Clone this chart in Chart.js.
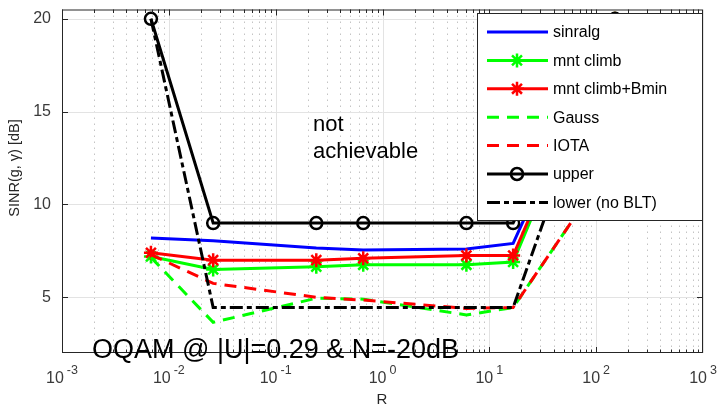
<!DOCTYPE html>
<html>
<head>
<meta charset="utf-8">
<script src="https://cdn.jsdelivr.net/npm/chart.js@4/dist/chart.umd.min.js"></script>
<style>
	body { margin: 0; background: #fff; }
	canvas { display: block; }
</style>
</head>
<body>
<canvas id="myChart" width="720" height="407"></canvas>
<script>
// values
const rValues = [0.0068, 0.026, 0.24, 0.66, 6.1, 16.7, 150];
const sinralg = [8.2, 8.05, 7.65, 7.55, 7.6, 7.9, 20];
const mntClimb = [7.2, 6.5, 6.65, 6.75, 6.75, 6.9, 20];
const mntClimbBmin = [7.4, 7.0, 7.0, 7.1, 7.25, 7.25, 20];
const gauss = [7.15, 3.65, 4.95, 4.9, 4.05, 4.45, 12.5];
const iota = [7.3, 5.75, 5.0, 4.85, 4.4, 4.45, 12.5];
const upper = [20, 9, 9, 9, 9, 9, 20];
const lower = [20, 4.45, 4.45, 4.45, 4.45, 4.45, 20];

const seriesNames = ["sinralg", "mnt climb", "mnt climb+Bmin", "Gauss", "IOTA", "upper", "lower (no BLT)"];
const xTickValues = [0.001, 0.01, 0.1, 1, 10, 100, 1000];
const xTickExponents = ["-3", "-2", "-1", "0", "1", "2", "3"];
const yTickValues = [5, 10, 15, 20];

const FONT = "'Liberation Sans', Arial, Helvetica, sans-serif";

function toPoints(values) {
	return values.map((v, i) => ({ x: rValues[i], y: v }));
}

function makeSet(i, values, color, extra) {
	return Object.assign({
		label: seriesNames[i],
		data: toPoints(values),
		borderColor: color,
		backgroundColor: color,
		borderWidth: 3,
		pointRadius: 0,
		tension: 0,
		fill: false,
		order: 10 - i
	}, extra);
}

const datasets = [
	makeSet(0, sinralg, "#0000ff", {}),
	makeSet(1, mntClimb, "#00ff00", { pointStyle: "star", pointRadius: 7, pointBorderWidth: 2.5, pointBorderColor: "#00ff00" }),
	makeSet(2, mntClimbBmin, "#ff0000", { pointStyle: "star", pointRadius: 7, pointBorderWidth: 2.5, pointBorderColor: "#ff0000" }),
	makeSet(3, gauss, "#00ff00", { borderDash: [12, 8] }),
	makeSet(4, iota, "#ff0000", { borderDash: [12, 8] }),
	makeSet(5, upper, "#000000", { pointStyle: "circle", pointRadius: 6, pointBorderWidth: 2.5, pointBorderColor: "#000000", pointBackgroundColor: "rgba(0,0,0,0)" }),
	makeSet(6, lower, "#000000", { borderDash: [13, 4, 5, 4] })
];

function drawMarker(ctx, ds, x, y) {
	if (!ds.pointRadius) return;
	const r = ds.pointRadius;
	ctx.save();
	ctx.setLineDash([]);
	ctx.lineWidth = ds.pointBorderWidth;
	ctx.strokeStyle = ds.pointBorderColor;
	ctx.beginPath();
	if (ds.pointStyle === "circle") {
		ctx.fillStyle = "#fff";
		ctx.arc(x, y, r, 0, Math.PI * 2);
		ctx.stroke();
	} else {
		const d = r * Math.SQRT1_2;
		ctx.moveTo(x - r, y); ctx.lineTo(x + r, y);
		ctx.moveTo(x, y - r); ctx.lineTo(x, y + r);
		ctx.moveTo(x - d, y - d); ctx.lineTo(x + d, y + d);
		ctx.moveTo(x - d, y + d); ctx.lineTo(x + d, y - d);
		ctx.stroke();
	}
	ctx.restore();
}

const matlabAxes = {
	id: "matlabAxes",
	beforeDatasetsDraw(chart) {
		const ctx = chart.ctx;
		const a = chart.chartArea;
		const xs = chart.scales.x, ys = chart.scales.y;
		ctx.save();
		// minor grid (x only)
		ctx.strokeStyle = "#c4c4c4";
		ctx.lineWidth = 1;
		ctx.setLineDash([1.5, 4.5]);
		for (let e = -3; e < 3; e++) {
			for (let m = 2; m <= 9; m++) {
				const px = Math.round(xs.getPixelForValue(m * Math.pow(10, e))) + 0.5;
				ctx.beginPath();
				ctx.moveTo(px, a.top);
				ctx.lineTo(px, a.bottom);
				ctx.stroke();
			}
		}
		// major grid
		ctx.setLineDash([]);
		ctx.strokeStyle = "#e3e3e3";
		xTickValues.forEach(v => {
			const px = Math.round(xs.getPixelForValue(v)) + 0.5;
			ctx.beginPath(); ctx.moveTo(px, a.top); ctx.lineTo(px, a.bottom); ctx.stroke();
		});
		yTickValues.forEach(v => {
			const py = Math.round(ys.getPixelForValue(v)) + 0.5;
			ctx.beginPath(); ctx.moveTo(a.left, py); ctx.lineTo(a.right, py); ctx.stroke();
		});
		ctx.restore();
	},
	afterDatasetsDraw(chart) {
		const ctx = chart.ctx;
		const a = chart.chartArea;
		const xs = chart.scales.x, ys = chart.scales.y;
		ctx.save();
		ctx.setLineDash([]);
		// box
		ctx.strokeStyle = "#262626";
		ctx.lineWidth = 1;
		ctx.strokeRect(a.left + 0.5, a.top + 0.5, a.right - a.left - 1, a.bottom - a.top - 1);
		// ticks
		ctx.beginPath();
		for (let e = -3; e < 3; e++) {
			for (let m = 1; m <= 9; m++) {
				const px = Math.round(xs.getPixelForValue(m * Math.pow(10, e))) + 0.5;
				const len = m === 1 ? 6 : 3.5;
				ctx.moveTo(px, a.bottom); ctx.lineTo(px, a.bottom - len);
				ctx.moveTo(px, a.top); ctx.lineTo(px, a.top + len);
			}
		}
		yTickValues.forEach(v => {
			const py = Math.round(ys.getPixelForValue(v)) + 0.5;
			ctx.moveTo(a.left, py); ctx.lineTo(a.left + 6, py);
			ctx.moveTo(a.right, py); ctx.lineTo(a.right - 6, py);
		});
		ctx.stroke();

		// tick labels
		ctx.fillStyle = "#3a3a3a";
		ctx.textBaseline = "alphabetic";
		xTickValues.forEach((v, i) => {
			const px = xs.getPixelForValue(v);
			ctx.font = "16px " + FONT;
			const wb = ctx.measureText("10").width;
			ctx.font = "12.5px " + FONT;
			const we = ctx.measureText(xTickExponents[i]).width;
			const total = wb + 3 + we;
			const x0 = px - total / 2;
			ctx.textAlign = "left";
			ctx.font = "16px " + FONT;
			ctx.fillText("10", x0, 383);
			ctx.font = "12.5px " + FONT;
			ctx.fillText(xTickExponents[i], x0 + wb + 3, 374);
		});
		ctx.font = "16px " + FONT;
		ctx.textAlign = "right";
		ctx.textBaseline = "middle";
		yTickValues.forEach(v => {
			ctx.fillText(String(v), a.left - 11, ys.getPixelForValue(v));
		});

		// axis titles
		ctx.fillStyle = "#262626";
		ctx.textAlign = "center";
		ctx.textBaseline = "middle";
		ctx.font = "15px " + FONT;
		ctx.fillText("R", 382, 400);
		ctx.save();
		ctx.translate(15, 168);
		ctx.rotate(-Math.PI / 2);
		ctx.font = "14.5px " + FONT;
		ctx.fillText("SINR(g, \u03b3) [dB]", 0, 0);
		ctx.restore();

		// annotations
		ctx.fillStyle = "#000";
		ctx.textAlign = "left";
		ctx.textBaseline = "alphabetic";
		ctx.font = "22px " + FONT;
		ctx.fillText("not", 313, 131);
		ctx.fillText("achievable", 313, 158);
		ctx.font = "27px " + FONT;
		ctx.fillText("OQAM @ |U|=0.29 & N=-20dB", 92, 358);

		// legend
		const lx = 477, ly = 13, lw = 225, lh = 207;
		ctx.fillStyle = "#fff";
		ctx.fillRect(lx, ly, lw, lh);
		ctx.strokeStyle = "#262626";
		ctx.lineWidth = 1;
		ctx.strokeRect(lx + 0.5, ly + 0.5, lw, lh);
		ctx.font = "16px " + FONT;
		ctx.textBaseline = "middle";
		chart.data.datasets.forEach((ds, i) => {
			const y = 32 + i * 28.4;
			ctx.save();
			ctx.strokeStyle = ds.borderColor;
			ctx.lineWidth = ds.borderWidth;
			ctx.setLineDash(ds.borderDash || []);
			ctx.beginPath();
			ctx.moveTo(487, y);
			ctx.lineTo(548, y);
			ctx.stroke();
			ctx.restore();
			drawMarker(ctx, ds, 517, y);
			ctx.fillStyle = "#000";
			ctx.fillText(ds.label, 553, y + 1);
		});
		ctx.restore();
	}
};

new Chart("myChart", {
	type: "line",
	data: { datasets: datasets },
	options: {
		responsive: false,
		animation: false,
		layout: { padding: { left: 62, right: 17, top: 8, bottom: 54 } },
		plugins: { legend: { display: false }, tooltip: { enabled: false } },
		scales: {
			x: { type: "logarithmic", min: 0.001, max: 1000, display: false },
			y: { type: "linear", min: 2, max: 20.5, display: false }
		}
	},
	plugins: [matlabAxes]
});
</script>
</body>
</html>
